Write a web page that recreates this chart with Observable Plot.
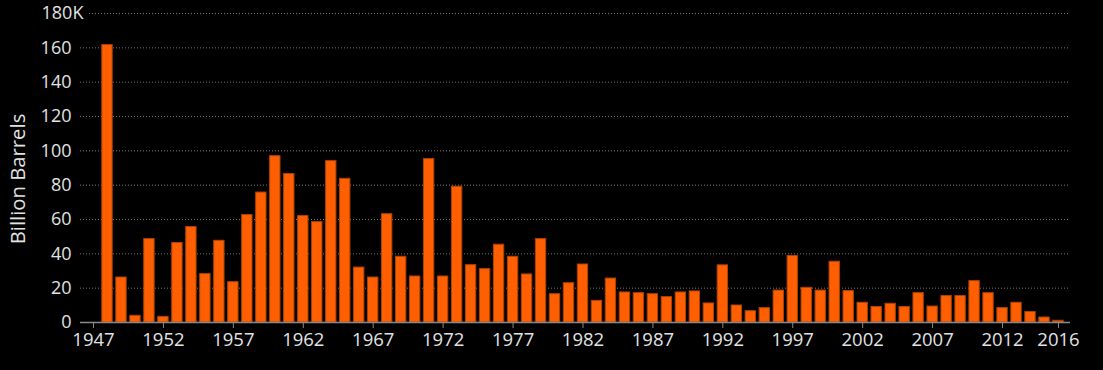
<!DOCTYPE html>
<html><head><meta charset="utf-8">
<script src="https://cdn.jsdelivr.net/npm/d3@7"></script>
<script src="https://cdn.jsdelivr.net/npm/@observablehq/plot@0.6"></script>
<style>
html,body{margin:0;padding:0;background:#000;}
#chart g[aria-label="x-axis tick label"]{font-size:18.5px !important;}
#chart g[aria-label="y-axis tick label"]{font-size:18px !important;}
</style>
</head><body><div id="chart"></div>
<script>
const years = [1948,1949,1950,1951,1952,1953,1954,1955,1956,1957,
  1958,1959,1960,1961,1962,1963,1964,1965,1966,1967,
  1968,1969,1970,1971,1972,1973,1974,1975,1976,1977,
  1978,1979,1980,1981,1982,1983,1984,1985,1986,1987,
  1988,1989,1990,1991,1992,1993,1994,1995,1996,1997,
  1998,1999,2000,2001,2002,2003,2004,2005,2006,2007,
  2008,2009,2010,2011,2012,2013,2014,2015,2016];
const values = [161.6,26.2,3.9,48.6,3.3,46.3,55.6,28.2,47.6,23.5,
  62.6,75.7,96.9,86.5,62.0,58.5,94.0,83.7,32.0,26.2,
  63.1,38.3,26.8,95.2,26.8,79.1,33.4,31.1,45.3,38.3,
  28.0,48.6,16.5,22.9,33.8,12.6,25.6,17.5,17.1,16.5,
  14.8,17.5,18.1,11.1,33.3,9.9,6.6,8.4,18.6,38.7,
  20.2,18.6,35.4,18.3,11.5,9.0,10.9,9.0,17.1,9.3,
  15.4,15.4,24.1,17.1,8.4,11.5,6.1,2.9,1.0];
const xTicks = [1947,1952,1957,1962,1967,1972,1977,1982,1987,1992,1997,2002,2007,2012,2016];
const yTicks = [0,20,40,60,80,100,120,140,160];
const yTopTick = [180];
const yLabel = "Billion Barrels";

const data = years.map((year, i) => ({year, value: values[i]}));
const textColor = "#e2e2e2";
const axisColor = "#8a8a8a";

const chart = Plot.plot({
  width: 1103,
  height: 370,
  marginLeft: 80,
  marginRight: 33,
  marginTop: 13,
  marginBottom: 48,
  style: {background: "#000", color: textColor, fontFamily: "'Open Sans', sans-serif", fontSize: "18px"},
  x: {domain: [1946.07, 2016.86]},
  y: {domain: [0, 180]},
  marks: [
    Plot.gridY(yTicks.concat(yTopTick), {stroke: "#777", strokeOpacity: 1, strokeDasharray: "1,2"}),
    Plot.rectY(data, {x1: d => d.year - 0.37, x2: d => d.year + 0.37, y: "value", fill: "#ff5f00", stroke: "#b04200", strokeWidth: 1}),
    Plot.axisY(yTicks, {tickSize: 0, tickPadding: 9, label: null, fill: textColor, fontSize: 18}),
    Plot.text(yTopTick, {y: d => d, frameAnchor: "left", text: () => "180K", textAnchor: "start", dx: -39, fontSize: 18, fill: textColor, stroke: "#000", strokeWidth: 12, paintOrder: "stroke"}),
    Plot.ruleY([0], {stroke: axisColor, strokeWidth: 1.5}),
    Plot.axisX(xTicks, {tickFormat: d => String(d), tickSize: 6, tickPadding: 4, stroke: axisColor, fill: textColor, label: null, fontSize: 18.5}),
    Plot.text([yLabel], {frameAnchor: "left", text: d => d, rotate: -90, textAnchor: "middle", dx: -62, dy: 11, fontSize: 20.3, fill: textColor})
  ]
});
document.getElementById("chart").appendChild(chart);
</script>
</body></html>
